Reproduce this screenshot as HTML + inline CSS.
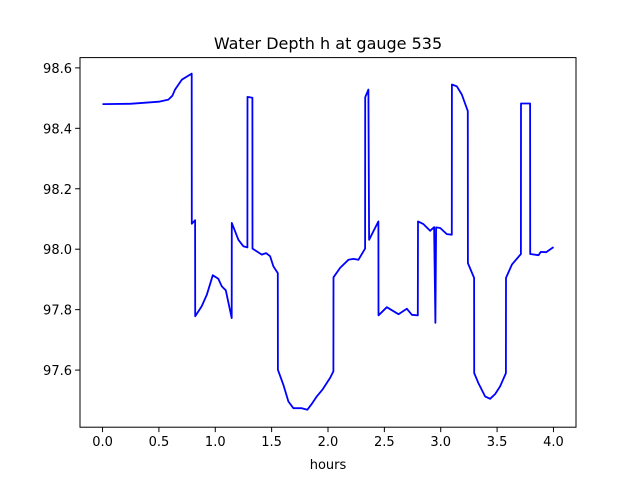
<!DOCTYPE html>
<html><head><meta charset="utf-8"><style>body{margin:0;background:#fff}svg{display:block;font-family:"DejaVu Sans","Liberation Sans",sans-serif}</style></head>
<body>
<svg id="chart" width="640" height="480" viewBox="0 0 640 480">
<rect x="0" y="0" width="640" height="480" fill="#fff"/>
<text x="328" y="49" text-anchor="middle" font-size="16">Water Depth h at gauge 535</text>
<text x="328" y="469" text-anchor="middle" font-size="13">hours</text>
<g id="ticks"></g>
<path id="series" fill="none" stroke="#0000ff" stroke-width="1.8" stroke-linejoin="round"/>
<rect x="80" y="57.6" width="496" height="369.6" fill="none" stroke="#000" stroke-width="1"/>
</svg>
<script>
const hours=[0,0.244,0.5,0.584,0.62,0.643,0.703,0.791,0.792,0.821,0.822,0.880,0.925,0.978,1.027,1.058,1.093,1.146,1.147,1.205,1.249,1.285,1.286,1.329,1.330,1.413,1.451,1.486,1.516,1.555,1.556,1.604,1.649,1.693,1.768,1.817,1.86,1.901,1.95,2.019,2.048,2.049,2.107,2.181,2.225,2.270,2.329,2.330,2.358,2.365,2.447,2.448,2.522,2.625,2.699,2.744,2.797,2.798,2.846,2.906,2.941,2.953,2.959,2.995,3.054,3.098,3.099,3.143,3.187,3.240,3.241,3.296,3.297,3.334,3.394,3.438,3.483,3.527,3.578,3.579,3.631,3.711,3.712,3.793,3.794,3.867,3.888,3.935,4.0];
const depth=[98.480,98.481,98.488,98.495,98.508,98.528,98.561,98.581,98.084,98.096,97.778,97.811,97.849,97.914,97.902,97.877,97.864,97.772,98.087,98.031,98.010,98.006,98.504,98.501,98.002,97.982,97.987,97.977,97.943,97.921,97.601,97.551,97.496,97.474,97.474,97.469,97.490,97.513,97.535,97.574,97.596,97.907,97.938,97.965,97.968,97.965,98.002,98.503,98.528,98.031,98.092,97.781,97.808,97.785,97.803,97.783,97.781,98.092,98.083,98.061,98.073,97.756,98.072,98.070,98.050,98.048,98.545,98.539,98.512,98.457,97.954,97.905,97.590,97.557,97.513,97.505,97.521,97.546,97.590,97.905,97.949,97.984,98.482,98.482,97.984,97.980,97.991,97.990,98.007];
const xTicks=[0,0.5,1,1.5,2,2.5,3,3.5,4];
const xTickLabels=["0.0","0.5","1.0","1.5","2.0","2.5","3.0","3.5","4.0"];
const yTicks=[97.6,97.8,98.0,98.2,98.4,98.6];
const yTickLabels=["97.6","97.8","98.0","98.2","98.4","98.6"];
const X0=80,X1=576,Y0=57.6,Y1=427.2,xMin=-0.2,xMax=4.2,yMin=97.411,yMax=98.634;
function sx(v){return X0+(v-xMin)/(xMax-xMin)*(X1-X0);}
function sy(v){return Y1-(v-yMin)/(yMax-yMin)*(Y1-Y0);}
const NS="http://www.w3.org/2000/svg";
const g=document.getElementById('ticks');
xTicks.forEach((t,i)=>{
 const l=document.createElementNS(NS,'line');
 
 
 l.setAttribute('x1',sx(t));l.setAttribute('x2',sx(t));l.setAttribute('y1',Y1);l.setAttribute('y2',Y1+4.9);l.setAttribute('stroke','#000');
 g.appendChild(l);
 const tx=document.createElementNS(NS,'text');
 
 
 tx.setAttribute('x',sx(t));tx.setAttribute('y',Y1+19);tx.setAttribute('text-anchor','middle');tx.setAttribute('font-size','13');
 tx.textContent=xTickLabels[i];g.appendChild(tx);
});
yTicks.forEach((t,i)=>{
 const l=document.createElementNS(NS,'line');
 
 
 l.setAttribute('x1',X0-4.9);l.setAttribute('x2',X0);l.setAttribute('y1',sy(t));l.setAttribute('y2',sy(t));l.setAttribute('stroke','#000');
 g.appendChild(l);
 const tx=document.createElementNS(NS,'text');
 
 
 tx.setAttribute('x',X0-8);tx.setAttribute('y',sy(t)+5);tx.setAttribute('text-anchor','end');tx.setAttribute('font-size','13');
 tx.textContent=yTickLabels[i];g.appendChild(tx);
});
document.getElementById('series').setAttribute('d',hours.map((h,i)=>(i?'L':'M')+sx(h).toFixed(1)+' '+sy(depth[i]).toFixed(1)).join(' '));
</script>
</body></html>
